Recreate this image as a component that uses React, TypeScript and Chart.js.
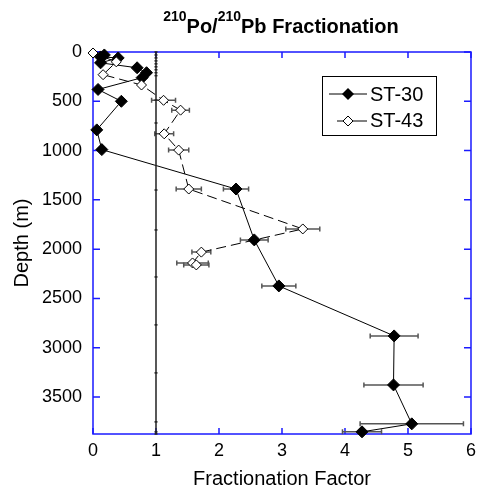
import { useEffect, useRef } from "react";
import { Chart, registerables } from "chart.js";

Chart.register(...registerables);

const FONT = "'Liberation Sans', Arial, Helvetica, sans-serif";

const xTicks = [0, 1, 2, 3, 4, 5, 6];
const yTicks = [0, 500, 1000, 1500, 2000, 2500, 3000, 3500];

const st30Depth = [30, 50, 60, 110, 160, 210, 260, 380, 500, 790, 990, 1390, 1906, 2373, 2880, 3377, 3772, 3853];
const st30Factor = [0.18, 0.12, 0.4, 0.12, 0.7, 0.85, 0.78, 0.08, 0.45, 0.06, 0.14, 2.27, 2.56, 2.95, 4.78, 4.77, 5.06, 4.27];
const st30Err = [0, 0, 0, 0, 0, 0, 0, 0, 0, 0, 0, 0.2, 0.22, 0.27, 0.38, 0.47, 0.82, 0.31];

const st43Depth = [10, 100, 230, 335, 490, 590, 830, 995, 1390, 1795, 2030, 2140, 2160];
const st43Factor = [0.0, 0.37, 0.16, 0.77, 1.12, 1.39, 1.13, 1.36, 1.52, 3.33, 1.72, 1.58, 1.64];
const st43Err = [0, 0, 0, 0, 0.19, 0.14, 0.15, 0.16, 0.2, 0.27, 0.15, 0.25, 0.2];

const refDepths = [0, 30, 60, 90, 120, 150, 180, 210, 240, 487, 720, 1400, 1805, 2282, 2768, 3255, 3752, 3853, 3875];
const refFactor = 1;

const Y_MAX = 3875;

const framePlugin = {
  id: "frame",
  beforeDatasetsDraw(chart: any) {
    const { ctx, chartArea: a, scales } = chart;
    const xs = scales.x;
    const ys = scales.y;
    ctx.save();
    ctx.strokeStyle = "#1a1aff";
    ctx.lineWidth = 1.5;
    ctx.strokeRect(a.left, a.top, a.right - a.left, a.bottom - a.top);
    ctx.beginPath();
    for (const v of xTicks) {
      const px = xs.getPixelForValue(v);
      ctx.moveTo(px, a.bottom);
      ctx.lineTo(px, a.bottom - 6);
      ctx.moveTo(px, a.top);
      ctx.lineTo(px, a.top + 6);
    }
    for (const v of yTicks) {
      const py = ys.getPixelForValue(v);
      ctx.moveTo(a.left, py);
      ctx.lineTo(a.left + 7, py);
      ctx.moveTo(a.right, py);
      ctx.lineTo(a.right - 7, py);
    }
    ctx.stroke();

    // error bars
    const sets: [number[], number[], number[]][] = [
      [st30Factor, st30Depth, st30Err],
      [st43Factor, st43Depth, st43Err],
    ];
    ctx.strokeStyle = "#555";
    ctx.lineWidth = 1.5;
    for (const [fx, dy, er] of sets) {
      for (let i = 0; i < fx.length; i++) {
        if (!er[i]) continue;
        const y = ys.getPixelForValue(dy[i]);
        const x0 = xs.getPixelForValue(fx[i] - er[i]);
        const x1 = xs.getPixelForValue(fx[i] + er[i]);
        ctx.beginPath();
        ctx.moveTo(x0, y);
        ctx.lineTo(x1, y);
        ctx.moveTo(x0, y - 2.5);
        ctx.lineTo(x0, y + 2.5);
        ctx.moveTo(x1, y - 2.5);
        ctx.lineTo(x1, y + 2.5);
        ctx.stroke();
      }
    }
    ctx.restore();
  },
  afterDraw(chart: any) {
    const { ctx } = chart;
    ctx.save();
    ctx.fillStyle = "#000";
    ctx.textBaseline = "alphabetic";
    ctx.textAlign = "left";
    // title with superscripts
    const big = `bold 20px ${FONT}`;
    const small = `bold 14px ${FONT}`;
    const parts: [string, boolean][] = [
      ["210", true],
      ["Po/", false],
      ["210", true],
      ["Pb Fractionation", false],
    ];
    let total = 0;
    for (const [t, sup] of parts) {
      ctx.font = sup ? small : big;
      total += ctx.measureText(t).width;
    }
    let x = 281 - total / 2;
    for (const [t, sup] of parts) {
      ctx.font = sup ? small : big;
      ctx.fillText(t, x, sup ? 21 : 33);
      x += ctx.measureText(t).width;
    }

    // legend
    ctx.fillStyle = "#fff";
    ctx.fillRect(322.5, 76.5, 114, 59);
    ctx.strokeStyle = "#000";
    ctx.lineWidth = 1;
    ctx.strokeRect(322.5, 76.5, 114, 59);
    ctx.beginPath();
    ctx.moveTo(329, 94);
    ctx.lineTo(367, 94);
    ctx.moveTo(337, 121);
    ctx.lineTo(367, 121);
    ctx.stroke();
    // filled diamond
    ctx.fillStyle = "#000";
    ctx.beginPath();
    ctx.moveTo(348, 88);
    ctx.lineTo(354, 94);
    ctx.lineTo(348, 100);
    ctx.lineTo(342, 94);
    ctx.closePath();
    ctx.fill();
    // open diamond
    ctx.fillStyle = "#fff";
    ctx.beginPath();
    ctx.moveTo(348, 116);
    ctx.lineTo(353, 121);
    ctx.lineTo(348, 126);
    ctx.lineTo(343, 121);
    ctx.closePath();
    ctx.fill();
    ctx.stroke();
    ctx.fillStyle = "#000";
    ctx.font = `20px ${FONT}`;
    ctx.textBaseline = "middle";
    ctx.fillText("ST-30", 370, 95);
    ctx.fillText("ST-43", 370, 121);
    ctx.restore();
  },
};

export default function App() {
  const ref = useRef<HTMLCanvasElement | null>(null);
  useEffect(() => {
    if (!ref.current) return;
    const chart = new Chart(ref.current, {
      type: "scatter",
      data: {
        datasets: [
          {
            label: "ref",
            data: refDepths.map((d) => ({ x: refFactor, y: d })),
            showLine: true,
            borderColor: "#222",
            borderWidth: 1.5,
            pointStyle: "line",
            pointRadius: 1.5,
            pointBorderColor: "#222",
            pointBorderWidth: 1.5,
            clip: false,
          },
          {
            label: "ST-43",
            data: st43Factor.map((v, i) => ({ x: v, y: st43Depth[i] })),
            showLine: true,
            borderColor: "#000",
            borderWidth: 1,
            borderDash: [10, 5],
            pointStyle: "rectRot",
            pointRadius: 5,
            pointBackgroundColor: "#fff",
            pointBorderColor: "#000",
            pointBorderWidth: 1,
            clip: false,
          },
          {
            label: "ST-30",
            data: st30Factor.map((v, i) => ({ x: v, y: st30Depth[i] })),
            showLine: true,
            borderColor: "#000",
            borderWidth: 1,
            pointStyle: "rectRot",
            pointRadius: 6,
            pointBackgroundColor: "#000",
            pointBorderColor: "#000",
            pointBorderWidth: 1,
            clip: false,
          },
        ],
      },
      options: {
        responsive: false,
        animation: false,
        layout: { padding: { top: 52, right: 5, left: 0, bottom: 0 } },
        plugins: {
          legend: { display: false },
          title: { display: false },
          tooltip: { enabled: false },
        },
        scales: {
          x: {
            type: "linear",
            min: 0,
            max: 6,
            grid: { display: false, drawTicks: false },
            border: { display: false },
            ticks: {
              padding: 6,
              color: "#000",
              font: { size: 18, family: FONT },
              callback: (v: any) => String(v),
            },
            afterBuildTicks: (s: any) => {
              s.ticks = xTicks.map((v) => ({ value: v }));
            },
            afterFit: (s: any) => {
              s.height = 55;
            },
            title: {
              display: true,
              text: "Fractionation Factor",
              color: "#000",
              font: { size: 20, family: FONT, lineHeight: 1 },
              padding: { top: 0, bottom: 0 },
            },
          },
          y: {
            type: "linear",
            reverse: true,
            min: 0,
            max: Y_MAX,
            grid: { display: false, drawTicks: false },
            border: { display: false },
            ticks: {
              padding: 11,
              color: "#000",
              font: { size: 18, family: FONT },
              callback: (v: any) => String(v),
            },
            afterBuildTicks: (s: any) => {
              s.ticks = yTicks.map((v) => ({ value: v }));
            },
            afterFit: (s: any) => {
              s.width = 93;
            },
            title: {
              display: true,
              text: "Depth (m)",
              color: "#000",
              font: { size: 20, family: FONT, lineHeight: 1 },
              padding: { top: 12, bottom: 0 },
            },
          },
        },
      },
      plugins: [framePlugin],
    });
    return () => chart.destroy();
  }, []);
  return (
    <div style={{ position: "absolute", left: 0, top: 0, width: 482, height: 489, background: "#fff" }}>
      <canvas ref={ref} width={482} height={489} />
    </div>
  );
}
